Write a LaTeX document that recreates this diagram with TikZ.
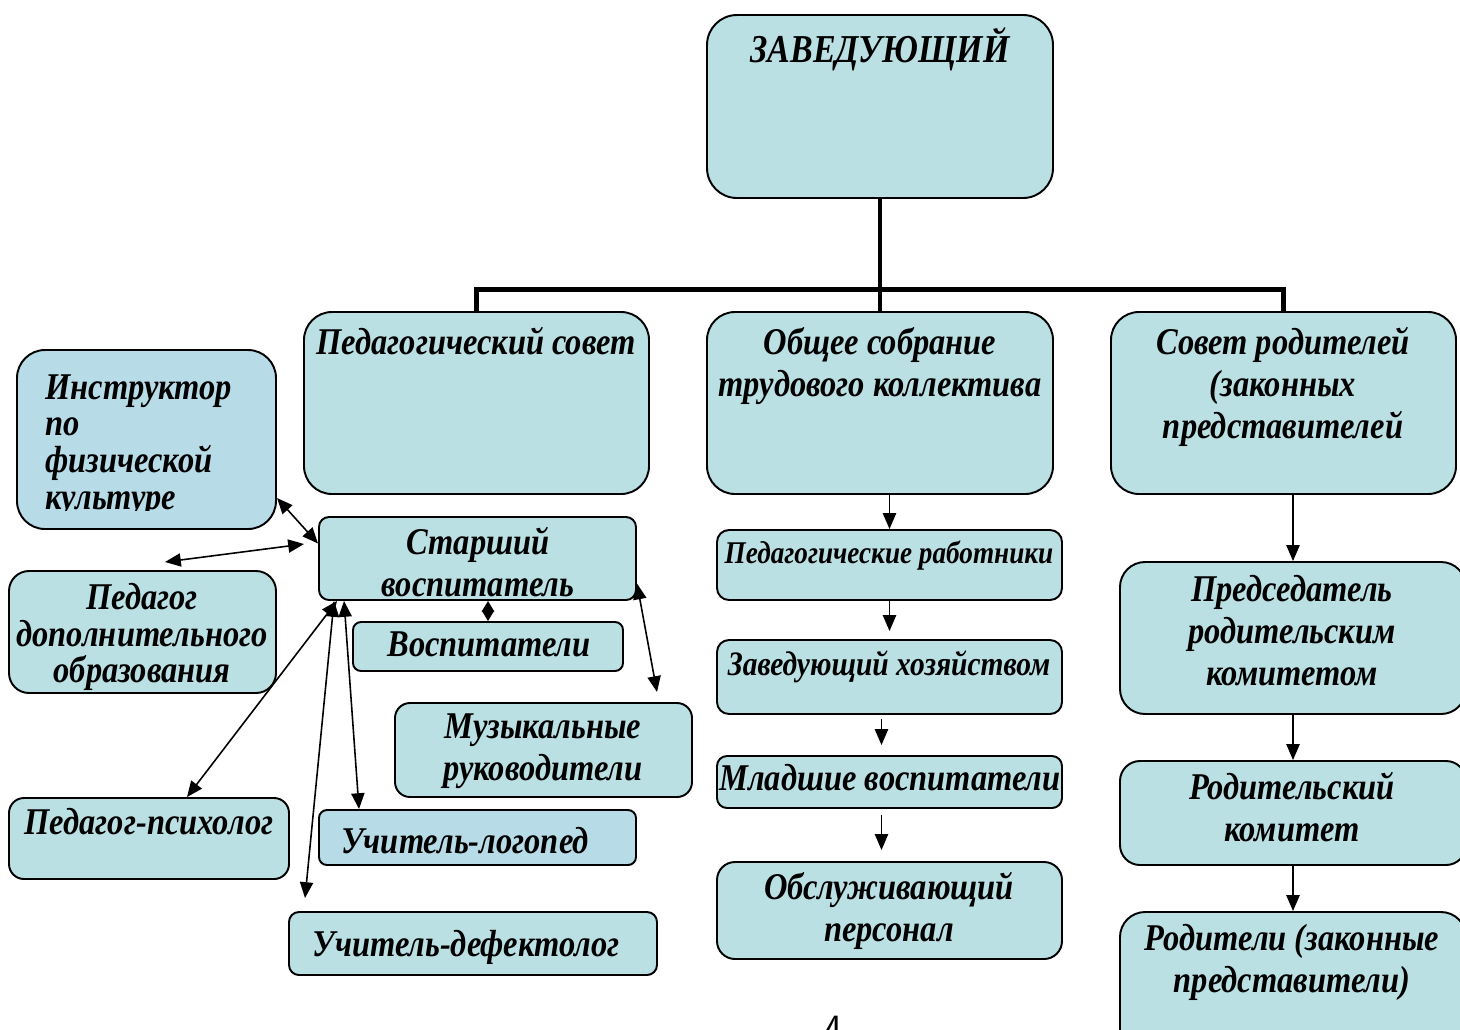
\documentclass[tikz,border=0pt]{standalone}
\usepackage{fontspec}
\setmainfont{Liberation Serif}[FakeStretch=0.86]
\usepackage{tikz}
\usetikzlibrary{arrows.meta, positioning, fit}
\definecolor{cellfill}{RGB}{187,224,227}
\definecolor{cellblue}{RGB}{183,220,232}

\begin{document}
\begin{tikzpicture}[
  x=0.02cm, y=-0.02cm,
  % ── Style definitions ──
  box/.style={draw=black, line width=1.1pt, fill=cellfill,
    inner sep=0pt, rounded corners=#1},
  box/.default=0.5cm,
  bbox/.style={box=#1, fill=cellblue},
  txt/.style={font=\fontsize{21.5}{24}\selectfont\bfseries\itshape,
    align=center, inner sep=0pt, anchor=north},
  stxt/.style={txt, font=\fontsize{18}{20}\selectfont\bfseries\itshape},
  trunk/.style={line width=2.8pt},
  arr/.style ={-{Triangle[length=9pt,width=7.5pt]}, line width=0.9pt},
  darr/.style={{Triangle[length=9pt,width=7.5pt]}-{Triangle[length=9pt,width=7.5pt]}, line width=0.9pt}
]
\useasboundingbox (0,0) rectangle (1460,1029);

% ─────────── Top level ───────────────────────────────────────
\node[box=0.6cm, fit={(707,15) (1053,198)}]   (zav)  {};
\node[txt, font=\fontsize{22.5}{24}\selectfont\bfseries\itshape]
  at (880,27) {ЗАВЕДУЮЩИЙ};

% ─────────── Councils row ────────────────────────────────────
\node[box=0.56cm, fit={(304,312) (649,494)}]  (ped)  {};
\node[box=0.56cm, fit={(707,312) (1053,494)}] (obs)  {};
\node[box=0.56cm, fit={(1111,312) (1456,494)}] (rod) {};
\node[txt] at (476,327)  {Педагогический совет};
\node[txt] at (880,327)  {Общее собрание\\трудового коллектива};
\node[txt] at (1283,327) {Совет родителей\\(законных\\представителей};

% ─────────── Left cluster ────────────────────────────────────
\node[bbox=0.56cm, fit={(17,350) (276,529)}] (instr) {};
\begin{scope}
  \clip (17,350) rectangle (276,510);
  \node[txt, anchor=north west, align=left,
        font=\fontsize{21.5}{21}\selectfont\bfseries\itshape]
    at (45,374) {Инструктор\\по\\физической\\культуре};
\end{scope}
\node[box=0.2cm,  fit={(319,517) (636,600)}] (star) {};
\node[box=0.4cm,  fit={(9,571) (276,693)}]   (pdop) {};
\node[box=0.16cm, fit={(353,622) (623,671)}] (vosp) {};
\node[box=0.3cm,  fit={(395,703) (692,797)}] (muz)  {};
\node[box=0.3cm,  fit={(9,798) (289,879)}]   (psih) {};
\node[bbox=0.16cm, fit={(319,810) (636,865)}] (logo) {};
\node[box=0.2cm,  fit={(289,912) (657,975)}] (defe) {};
\node[txt] at (478,527) {Старший\\воспитатель};
\node[txt, font=\fontsize{21.5}{20.8}\selectfont\bfseries\itshape]
  at (142,583) {Педагог\\дополнительного\\образования};
\node[txt] at (489,631) {Воспитатели};
\node[txt] at (543,713) {Музыкальные\\руководители};
\node[txt] at (149,808) {Педагог-психолог};
\node[txt] at (465,827) {Учитель-логопед};
\node[txt] at (466,930) {Учитель-дефектолог};

% ─────────── Centre column ───────────────────────────────────
\node[box=0.24cm, fit={(717,530) (1062,600)}] (prab) {};
\node[box=0.24cm, fit={(717,640) (1062,714)}] (zhoz) {};
\node[box=0.2cm,  fit={(717,756) (1062,808)}] (mlad) {};
\node[box=0.36cm, fit={(717,862) (1062,959)}] (obsl) {};
\node[stxt] at (889,540) {Педагогические работники};
\node[stxt, font=\fontsize{19.5}{20}\selectfont\bfseries\itshape]
  at (889,650) {Заведующий хозяйством};
\node[txt]  at (890,764) {Младшие воспитатели};
\node[txt]  at (889,872) {Обслуживающий\\персонал};

% ─────────── Right column ────────────────────────────────────
\node[box=0.5cm, fit={(1120,562) (1466,714)}]  (pred) {};
\node[box=0.4cm, fit={(1120,761) (1466,865)}]  (rkom) {};
\node[box=0.5cm, fit={(1120,912) (1466,1060)}] (rodi) {};
\node[txt] at (1292,575) {Председатель\\родительским\\комитетом};
\node[txt] at (1292,772) {Родительский\\комитет};
\node[txt] at (1292,924) {Родители (законные\\представители)};

% ─────────── Trunk lines ─────────────────────────────────────
\draw[trunk] (zav.south) -- (obs.north);
\draw[trunk] (ped.north) -- ++(0,-22) -| (rod.north);

% ─────────── Centre and right arrows ─────────────────────────
\draw[arr] (prab.north |- obs.south) -- (prab.north);
\draw[arr, shorten >=0.16cm] (prab.south) -- (zhoz.north);
\draw[arr, shorten <=0.08cm, shorten >=0.2cm]
  ([xshift=-0.16cm]zhoz.south) -- ([xshift=-0.16cm]mlad.north);
\draw[arr, shorten <=0.12cm, shorten >=0.22cm]
  ([xshift=-0.16cm]mlad.south) -- ([xshift=-0.16cm]obsl.north);
\draw[arr] (pred.north |- rod.south) -- (pred.north);
\draw[arr] (pred.south) -- (rkom.north);
\draw[arr] (rkom.south) -- (rodi.north);

% ─────────── Left cluster arrows ─────────────────────────────
\coordinate (dopL) at (165,562);
\coordinate (dopR) at (304,544);
\coordinate (defT) at (305,898);
\coordinate (muzT) at (657,692);
\draw[darr] ([yshift=0.64cm]instr.south east) -- ([yshift=0.3cm]star.west);
\draw[darr] (dopL) -- (dopR);
\draw[darr] ([xshift=0.38cm]star.south west) -- ([xshift=0.76cm]psih.north);
\draw[darr] ([xshift=0.32cm]star.south west) -- (defT);
\draw[darr] ([xshift=0.52cm]star.south west) -- ([xshift=0.82cm]logo.north west);
\draw[{Triangle[length=6pt,width=7pt]}-{Triangle[length=6pt,width=7pt]}, line width=0.9pt]
  (vosp.north |- star.south) -- (vosp.north);
\draw[darr] ([yshift=-0.5cm]star.east) -- (muzT);

% ─────────── Page number ─────────────────────────────────────
\node[font=\sffamily\fontsize{22}{22}\selectfont, anchor=north, inner sep=0pt]
  (pnum) at (834,1016) {4};
\end{tikzpicture}
\end{document}
